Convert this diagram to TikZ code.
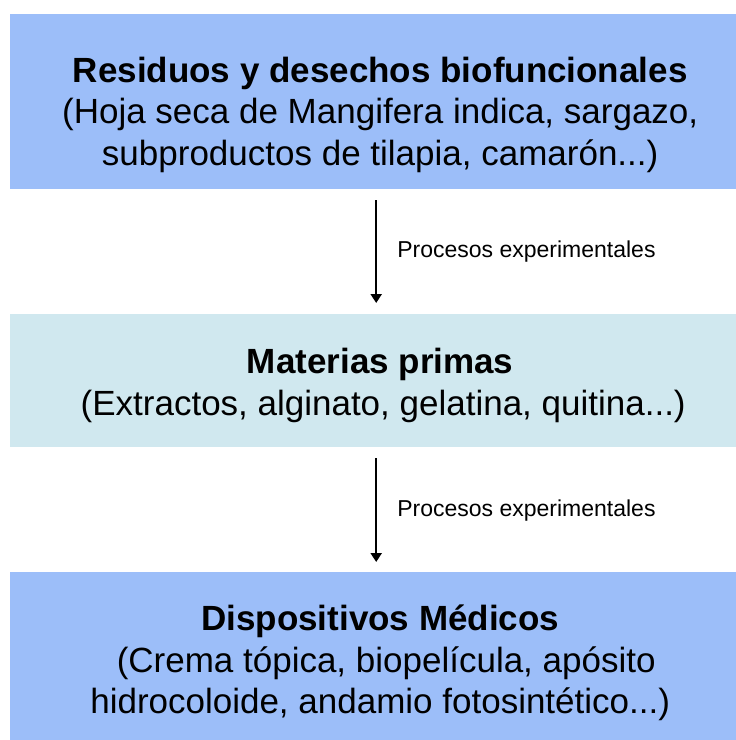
\documentclass[tikz,border=0pt]{standalone}
\usepackage{fontspec}
\setmainfont{Liberation Sans}
\usetikzlibrary{arrows.meta, positioning}
\definecolor{boxblue}{RGB}{156,190,249}
\definecolor{boxcyan}{RGB}{208,232,239}

\begin{document}
\begin{tikzpicture}[
        x=1pt, y=1pt,
        band/.style={rectangle, inner sep=0pt, minimum width=740pt, anchor=north west},
        txt/.style={align=center, inner sep=0pt, font=\fontsize{35}{41.5}\selectfont},
        note/.style={anchor=west, inner sep=0pt, font=\fontsize{23}{27}\selectfont},
        line/.style={-{Triangle[length=9pt,width=11pt]}, line width=2.3pt}
    ]
    \useasboundingbox (0,0) rectangle (736,-740);
    \node [band, fill=boxblue, minimum height=175pt] (res) at (10,-14) {};
    \node [band, fill=boxcyan, minimum height=133pt] (mat) at (10,-314) {};
    \node [band, fill=boxblue, minimum height=182pt] (dis) at (10,-572) {};
    \node [txt] (restxt) at ([yshift=-13pt]res.center)
        {\textbf{Residuos y desechos biofuncionales}\\(Hoja seca de Mangifera indica, sargazo,\\subproductos de tilapia, camarón...)};
    \node [txt] (mattxt) at ([yshift=-4.5pt]mat.center)
        {\textbf{Materias primas}\\\hspace*{6pt}(Extractos, alginato, gelatina, quitina...)};
    \node [txt] (distxt) at (dis.center)
        {\textbf{Dispositivos Médicos}\\\hspace*{12pt}(Crema tópica, biopelícula, apósito\\hidrocoloide, andamio fotosintético...)};
    \draw[line] ([xshift=-4pt, yshift=-11pt]res.south) -- ([xshift=-4pt, yshift=11pt]mat.north)
        node[note, midway, xshift=20pt] {Procesos experimentales};
    \draw[line] ([xshift=-4pt, yshift=-11pt]mat.south) -- ([xshift=-4pt, yshift=10pt]dis.north)
        node[note, midway, xshift=20pt] {Procesos experimentales};
\end{tikzpicture}
\end{document}
